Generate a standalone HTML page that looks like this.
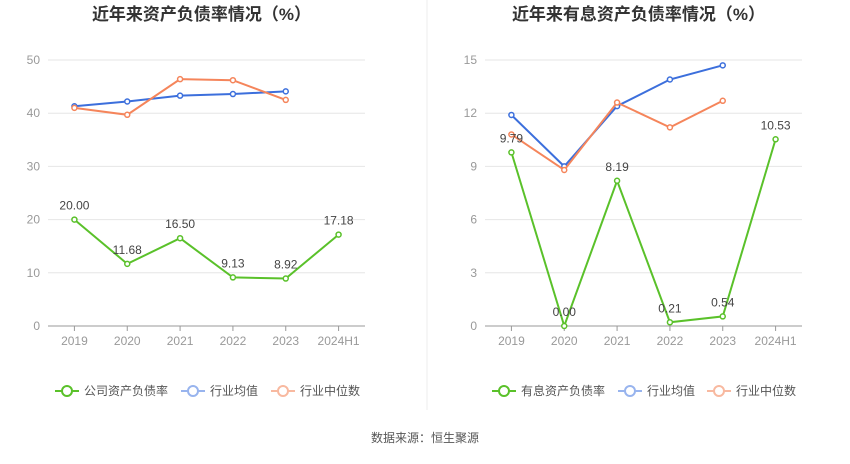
<!DOCTYPE html>
<html><head><meta charset="utf-8"><style>
body{margin:0;background:#fff;width:850px;height:459px;overflow:hidden;font-family:"Liberation Sans","Noto Sans CJK SC",sans-serif}
</style></head><body>
<svg id="svg" width="850" height="459" xmlns="http://www.w3.org/2000/svg" font-family="Liberation Sans, Noto Sans CJK SC, sans-serif"></svg>
<script>
const categories=["2019","2020","2021","2022","2023","2024H1"];
const leftCompany=[20.00,11.68,16.50,9.13,8.92,17.18];
const leftAvg=[41.3,42.2,43.3,43.6,44.1];
const leftMedian=[41.0,39.7,46.4,46.2,42.5];
const leftTicks=[0,10,20,30,40,50];
const rightCompany=[9.79,0.00,8.19,0.21,0.54,10.53];
const rightAvg=[11.9,9.0,12.4,13.9,14.7];
const rightMedian=[10.8,8.8,12.6,11.2,12.7];
const rightTicks=[0,3,6,9,12,15];

const svg=document.getElementById('svg');
const NS='http://www.w3.org/2000/svg';
function mk(tag,attrs,parent){const e=document.createElementNS(NS,tag);for(const k in attrs)e.setAttribute(k,attrs[k]);(parent||svg).appendChild(e);return e;}
function txt(x,y,s,attrs,parent){const t=mk('text',Object.assign({x:x,y:y},attrs),parent);t.textContent=s;return t;}

const GREEN='#5ac12a',BLUE='#3c6fdc',ORANGE='#f5855b';
function chart(opts){
  const g=mk('g',{});
  
  
  const x0=opts.x0,x1=opts.x1,yTop=60,yBot=326,maxV=opts.ticks[opts.ticks.length-1];
  const step=(x1-x0)/categories.length;
  const xs=i=>x0+step*(i+0.5);
  const ys=v=>yBot-(v/maxV)*(yBot-yTop);
  const t=txt((x0+x1)/2-5,20,opts.title,{'font-size':17,'font-weight':'bold',fill:'#333','text-anchor':'middle'},g);
  
  opts.ticks.forEach(v=>{
    const l=mk('line',{x1:x0,x2:x1,y1:ys(v),y2:ys(v),stroke:v===0?'#999':'#e6e6e6','stroke-width':1},g);
    
    const tl=txt(x0-8,ys(v)+4,String(v),{'font-size':12,fill:'#999','text-anchor':'end'},g);
    
  });
  categories.forEach((c,i)=>{
    const tk=mk('line',{x1:xs(i),x2:xs(i),y1:yBot,y2:yBot+5,stroke:'#999'},g);
    
    const tl=txt(xs(i),yBot+19,c,{'font-size':12,fill:'#999','text-anchor':'middle'},g);
    
  });
  function series(vals,color,name,labels){
    const pts=vals.map((v,i)=>xs(i)+','+ys(v)).join(' ');
    const pl=mk('polyline',{points:pts,fill:'none',stroke:color,'stroke-width':2},g);
    
    vals.forEach((v,i)=>{
      const c=mk('circle',{cx:xs(i),cy:ys(v),r:2.5,fill:'#fff',stroke:color,'stroke-width':1.5},g);
      
      if(labels){
        const lb=txt(xs(i),ys(v)-10,v.toFixed(2),{'font-size':12,fill:'#444','text-anchor':'middle'},g);
        
      }
    });
  }
  series(opts.avg,BLUE,'industry-average',false);
  series(opts.median,ORANGE,'industry-median',false);
  series(opts.company,GREEN,'company-ratio',true);
  const leg=[[opts.lx[0],GREEN,opts.label,1],[opts.lx[1],'#98b4ee','行业均值',1],[opts.lx[2],'#f8b9a0','行业中位数',1]];
  leg.forEach(([lx,col,s],k)=>{
    const lg=mk('g',{},g);
    
    mk('line',{x1:lx,x2:lx+24,y1:391,y2:391,stroke:col,'stroke-width':2},lg);
    mk('circle',{cx:lx+12,cy:391,r:5,fill:'#fff',stroke:col,'stroke-width':2},lg);
    txt(lx+29,395,s,{'font-size':12,fill:'#555'},lg);
  });
}
chart({name:'left-chart',title:'近年来资产负债率情况（%）',x0:48,x1:365,ticks:leftTicks,company:leftCompany,avg:leftAvg,median:leftMedian,label:'公司资产负债率',lx:[55,181,271]});
chart({name:'right-chart',title:'近年来有息资产负债率情况（%）',x0:485,x1:802,ticks:rightTicks,company:rightCompany,avg:rightAvg,median:rightMedian,label:'有息资产负债率',lx:[492,618,707]});
const d=mk('line',{x1:427,x2:427,y1:0,y2:410,stroke:'#eee'});

const src=txt(425,442,'数据来源：恒生聚源',{'font-size':12,fill:'#555','text-anchor':'middle'});

</script>
</body></html>
